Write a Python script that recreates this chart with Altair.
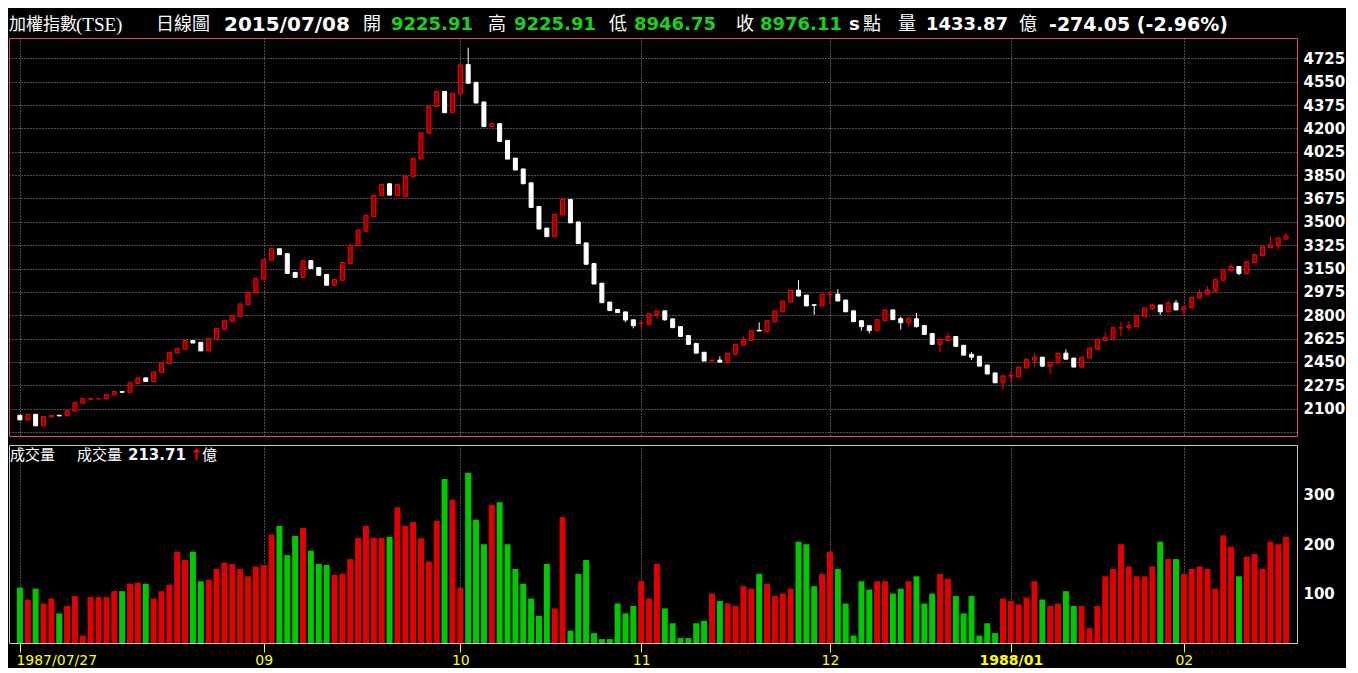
import altair as alt
import pandas as pd

# ---------------- data ----------------
opens = [2051,2016,2058,1972,2038,2051,2046,2082,2141,2171,
         2173,2174,2203,2228,2223,2289,2331,2304,2370,2437,
         2518,2547,2611,2597,2533,2621,2694,2754,2790,2880,
         2968,3071,3212,3298,3261,3121,3084,3209,3158,3106,
         3025,3062,3187,3320,3430,3540,3695,3785,3695,3691,
         3839,3972,4164,4363,4477,4317,4457,4678,4545,4398,
         4215,4235,4110,3977,3896,3792,3615,3453,3389,3551,
         3667,3499,3342,3187,3040,2899,2843,2825,2766,2738,
         2732,2804,2833,2773,2715,2648,2589,2523,2457,2464,
         2449,2508,2575,2611,2687,2678,2751,2826,2899,2988,
         2951,2879,2870,2952,2958,2914,2833,2759,2722,2685,
         2759,2840,2774,2744,2774,2722,2663,2582,2611,2641,
         2575,2508,2493,2427,2368,2294,2344,2338,2405,2464,
         2486,2419,2442,2516,2479,2412,2479,2545,2611,2626,
         2704,2707,2715,2789,2848,2877,2826,2892,2840,2855,
         2929,2958,2980,3062,3136,3165,3113,3195,3246,3305,
         3320,3372]
closes = [2016,2056,1972,2041,2050,2046,2085,2146,2176,2176,
          2176,2205,2228,2223,2294,2331,2304,2375,2442,2523,
          2552,2611,2592,2533,2626,2700,2759,2796,2885,2973,
          3077,3217,3298,3254,3113,3084,3209,3150,3099,3025,
          3069,3195,3327,3438,3548,3700,3780,3700,3780,3842,
          3975,4167,4366,4477,4317,4462,4676,4538,4390,4213,
          4235,4102,3970,3888,3785,3608,3446,3389,3556,3667,
          3492,3337,3182,3034,2894,2835,2820,2764,2722,2742,
          2811,2833,2766,2707,2641,2582,2516,2457,2464,2449,
          2516,2582,2619,2685,2682,2759,2833,2907,2988,2944,
          2870,2875,2958,2958,2907,2826,2752,2715,2685,2767,
          2840,2767,2744,2774,2715,2656,2582,2619,2641,2567,
          2501,2486,2419,2360,2294,2346,2349,2412,2471,2486,
          2419,2449,2516,2471,2412,2486,2553,2619,2634,2707,
          2707,2722,2796,2855,2877,2826,2892,2840,2862,2936,
          2966,2988,3069,3143,3165,3113,3202,3254,3313,3327,
          3379,3394]
highs = [2051,2056,2058,2041,2050,2051,2085,2146,2176,2176,
         2176,2205,2228,2228,2294,2331,2331,2375,2442,2523,
         2552,2611,2611,2597,2626,2700,2759,2796,2885,2973,
         3077,3217,3298,3298,3261,3121,3209,3209,3158,3106,
         3069,3195,3327,3438,3548,3700,3780,3785,3780,3842,
         3975,4167,4366,4477,4477,4462,4676,4804,4545,4398,
         4235,4235,4110,3977,3896,3792,3615,3453,3556,3667,
         3667,3499,3342,3187,3040,2899,2843,2825,2766,2766,
         2811,2833,2833,2773,2715,2648,2589,2523,2464,2493,
         2516,2582,2641,2685,2747,2759,2833,2907,2988,3062,
         2951,2879,2958,2980,2995,2914,2833,2759,2722,2767,
         2840,2840,2789,2789,2818,2722,2663,2619,2671,2641,
         2575,2523,2493,2427,2368,2346,2383,2412,2471,2516,
         2486,2449,2516,2545,2479,2486,2553,2619,2671,2707,
         2752,2752,2796,2855,2885,2877,2907,2914,2862,2936,
         2995,3017,3069,3143,3180,3165,3202,3254,3313,3394,
         3379,3416]
lows = [2016,2016,1972,1972,2038,2046,2046,2082,2141,2171,
        2173,2174,2203,2223,2223,2289,2304,2304,2370,2437,
        2518,2547,2592,2533,2533,2621,2694,2754,2790,2880,
        2968,3071,3212,3254,3113,3084,3084,3150,3099,3025,
        3025,3062,3187,3320,3430,3540,3695,3700,3695,3691,
        3839,3972,4164,4363,4317,4317,4457,4538,4390,4213,
        4215,4102,3970,3888,3785,3608,3446,3389,3389,3551,
        3492,3337,3182,3034,2894,2835,2820,2747,2702,2702,
        2732,2776,2759,2707,2641,2582,2516,2457,2457,2449,
        2449,2508,2575,2611,2682,2678,2751,2826,2899,2944,
        2870,2803,2870,2884,2907,2826,2752,2685,2663,2685,
        2759,2767,2693,2715,2707,2656,2582,2523,2611,2567,
        2501,2464,2419,2360,2294,2243,2301,2338,2405,2412,
        2412,2360,2442,2471,2412,2412,2479,2545,2611,2626,
        2641,2685,2715,2789,2840,2803,2826,2840,2796,2855,
        2929,2958,2980,3062,3121,3099,3113,3195,3246,3305,
        3290,3364]
volumes = [112,88,110,80,90,60,75,95,15,93,
           93,93,105,105,120,122,120,90,105,118,
           185,168,185,125,128,150,163,160,150,135,
           155,158,220,237,178,217,233,187,160,158,
           138,140,170,213,237,213,213,215,275,237,
           245,212,165,247,332,290,112,345,250,200,
           280,285,200,150,120,90,55,160,70,255,
           25,140,168,20,8,8,80,60,75,125,
           90,160,70,40,10,10,40,45,100,85,
           80,75,115,110,140,120,95,100,110,205,
           200,115,140,185,150,80,15,125,108,125,
           125,100,110,125,135,80,100,140,130,95,
           60,95,15,40,20,90,85,78,92,125,
           88,75,80,105,75,75,30,75,135,150,
           200,155,135,135,155,205,170,170,140,150,
           155,150,110,218,195,135,175,180,150,205,
           200,215]

tick_idx = [0, 31, 56, 79, 103, 126, 148]
tick_labels = ["1987/07/27", "09", "10", "11", "12", "1988/01", "02"]
price_ticks = [1925, 2100, 2275, 2450, 2625, 2800, 2975, 3150, 3325, 3500,
               3675, 3850, 4025, 4200, 4375, 4550, 4725]
vol_ticks = [100, 200, 300]

# ---------------- styling ----------------
W = 1288
H_PRICE = 398
H_VOL = 198
RED = "#ff0000"
RED_FILL = "#8c0000"
WHITE = "#ffffff"
VRED = "#e00000"
VGREEN = "#00c800"
GREEN_TXT = "#19d219"
GRID = "#9a9a9a"
PINK = "#e8407c"
YELLOW = "#ffff00"

n = len(opens)
df = pd.DataFrame({"i": list(range(n)), "open": opens, "high": highs,
                   "low": lows, "close": closes, "volume": volumes})
df["dir"] = ["up" if c >= o else "down" for o, c in zip(opens, closes)]
df["vdir"] = ["vup" if c >= o else "vdown" for o, c in zip(opens, closes)]

xscale = alt.Scale(domain=[-0.75, n - 0.25], nice=False, zero=False)
pscale = alt.Scale(domain=[1895.5, 4877], nice=False, zero=False)
vscale = alt.Scale(domain=[0, 401], nice=False, zero=True)

label_expr = " : ".join(
    [f"datum.value == {v} ? '{t}'" for v, t in zip(tick_idx, tick_labels)]) + " : ''"

x_axis_price = alt.Axis(values=tick_idx, grid=True, gridColor=GRID, gridDash=[1, 2],
                        labels=False, ticks=False, domain=False, title=None)
y_axis_price = alt.Axis(orient="right", values=price_ticks, format="d",
                        labelExpr="datum.value < 2000 ? '' : datum.label",
                        grid=True, gridColor=GRID, gridDash=[1, 2],
                        ticks=False, domain=False, title=None,
                        labelColor=WHITE, labelFont="DejaVu Sans", labelFontWeight="bold",
                        labelFontSize=15, labelPadding=6)

base = alt.Chart(df)

wicks = base.mark_rule(strokeWidth=1).encode(
    x=alt.X("i:Q", scale=xscale, axis=x_axis_price),
    y=alt.Y("low:Q", scale=pscale, axis=y_axis_price),
    y2="high:Q",
    color=alt.Color("dir:N", scale=alt.Scale(domain=["up", "down"], range=[RED, WHITE]), legend=None),
)

bodies = base.mark_bar(width=4, strokeWidth=1).encode(
    x=alt.X("i:Q", scale=xscale, axis=x_axis_price),
    y=alt.Y("open:Q", scale=pscale, axis=y_axis_price),
    y2="close:Q",
    fill=alt.Fill("dir:N", scale=alt.Scale(domain=["up", "down"], range=[RED_FILL, WHITE]), legend=None),
    stroke=alt.Stroke("dir:N", scale=alt.Scale(domain=["up", "down"], range=[RED, WHITE]), legend=None),
)

one = pd.DataFrame({"k": [0]})


def txt(s, x, y, color=WHITE, size=18, weight="normal", font="Noto Sans CJK TC", align="left"):
    return alt.Chart(one).mark_text(
        text=s, align=align, baseline="middle", font=font, fontSize=size,
        fontWeight=weight, color=color,
    ).encode(x=alt.value(x), y=alt.value(y))


hy = -13
header = [
    txt("加權指數", 0, hy, size=17),
    txt("(TSE)", 67, hy, size=19, font="Liberation Serif"),
    txt("日線圖", 147, hy),
    txt("2015/07/08", 215, hy, size=20, weight="bold", font="DejaVu Sans"),
    txt("開", 354, hy),
    txt("9225.91", 382, hy, color=GREEN_TXT, weight="bold", font="DejaVu Sans"),
    txt("高", 479, hy),
    txt("9225.91", 505, hy, color=GREEN_TXT, weight="bold", font="DejaVu Sans"),
    txt("低", 600, hy),
    txt("8946.75", 625, hy, color=GREEN_TXT, weight="bold", font="DejaVu Sans"),
    txt("收", 727, hy),
    txt("8976.11", 751, hy, color=GREEN_TXT, weight="bold", font="DejaVu Sans"),
    txt("s", 840, hy, weight="bold", font="DejaVu Sans"),
    txt("點", 854, hy),
    txt("量", 889, hy),
    txt("1433.87", 917, hy, weight="bold", font="DejaVu Sans"),
    txt("億", 1010, hy),
    txt("-274.05 (-2.96%)", 1040, hy, size=19, weight="bold", font="DejaVu Sans"),
]

price = alt.layer(wicks, bodies, *header).properties(
    width=W, height=H_PRICE,
    view=alt.ViewBackground(stroke=PINK, strokeWidth=1),
)

vbars = base.mark_bar(width=6).encode(
    x=alt.X("i:Q", scale=xscale,
            axis=alt.Axis(values=tick_idx, labelExpr=label_expr, grid=True, gridColor=GRID,
                          gridDash=[1, 2], ticks=True, tickColor=YELLOW, tickSize=9,
                          domain=False, title=None, labelColor=YELLOW,
                          labelFont="DejaVu Sans", labelFontSize=14, labelPadding=1,
                          labelAlign={"condition": {"test": "datum.value == 0", "value": "left"},
                                      "value": "center"},
                          labelFontWeight={"condition": {"test": "datum.value == 126", "value": "bold"},
                                           "value": "normal"},
                          labelOffset={"condition": {"test": "datum.value == 0", "value": -4},
                                       "value": 0})),
    y=alt.Y("volume:Q", scale=vscale,
            axis=alt.Axis(orient="right", values=vol_ticks, grid=False, ticks=False,
                          domain=False, title=None, labelColor=WHITE,
                          labelFont="DejaVu Sans", labelFontWeight="bold",
                          labelFontSize=15, labelPadding=6)),
    color=alt.Color("vdir:N", scale=alt.Scale(domain=["vup", "vdown"], range=[VRED, VGREEN]), legend=None),
)

vy = 10
vheader = [
    txt("成交量", 1, vy, size=15),
    txt("成交量", 68, vy, size=15),
    txt("213.71", 119, vy, size=15, weight="bold", font="DejaVu Sans", color="#eef6ff"),
    txt("↑", 181, vy, size=15, weight="bold", font="DejaVu Sans", color=RED),
    txt("億", 193, vy, size=15),
]

volume = alt.layer(vbars, *vheader).properties(
    width=W, height=H_VOL,
    view=alt.ViewBackground(stroke="#c8c8c8", strokeWidth=1),
)

chart = alt.vconcat(price, volume, spacing=3).resolve_scale(
    color="independent", fill="independent", stroke="independent"
).configure(
    background="black", padding={"top": 6, "left": 0, "right": 0, "bottom": 0}
).configure_axis(labelFlush=False, labelOverlap=False)

chart.save("out.html", embed_options={"renderer": "svg", "actions": False})
